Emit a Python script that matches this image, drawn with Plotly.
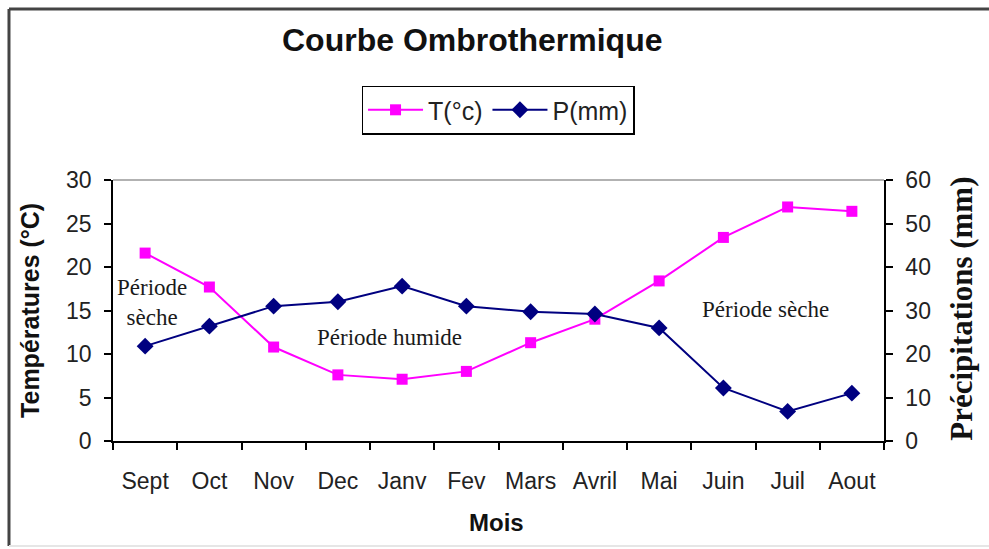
import plotly.graph_objects as go

mois = ["Sept", "Oct", "Nov", "Dec", "Janv", "Fev", "Mars", "Avril", "Mai", "Juin", "Juil", "Aout"]
temperature = [21.6, 17.7, 10.8, 7.6, 7.1, 8.0, 11.3, 14.0, 18.4, 23.4, 26.9, 26.4]
precipitation = [21.8, 26.4, 31.0, 32.0, 35.6, 31.0, 29.7, 29.2, 26.0, 12.2, 6.8, 11.0]

SANS = "Liberation Sans, Arial, sans-serif"
SERIF = "Liberation Serif, Times New Roman, serif"

fig = go.Figure()
fig.add_trace(go.Scatter(
    x=mois, y=temperature, name="T(°c)", mode="lines+markers",
    line=dict(color="#FF00FF", width=2),
    marker=dict(symbol="square", size=11, color="#FF00FF"),
    yaxis="y"))
fig.add_trace(go.Scatter(
    x=mois, y=precipitation, name="P(mm)", mode="lines+markers",
    line=dict(color="#000080", width=2),
    marker=dict(symbol="diamond", size=13, color="#000080"),
    yaxis="y2"))

tickfont = dict(family=SANS, size=23, color="#222")


def ann(text, x, y, font, angle=0):
    return dict(text=text, xref="paper", yref="paper", x=x, y=y, xanchor="center",
                yanchor="middle", showarrow=False, textangle=angle, font=font)


fig.update_layout(
    width=989, height=549,
    margin=dict(l=113, r=105, t=180, b=108, autoexpand=False),
    paper_bgcolor="white", plot_bgcolor="white",
    showlegend=True,
    legend=dict(orientation="h", x=0.4994, xanchor="center", y=1.268, yanchor="middle",
                bordercolor="black", borderwidth=1.5, bgcolor="white",
                font=dict(family=SANS, size=25, color="#222"),
                itemwidth=55, tracegroupgap=0),
    xaxis=dict(type="category", range=[-0.5, len(mois) - 0.5], showline=True,
               linecolor="black", linewidth=1.5,
               ticks="outside", ticklen=7, tickcolor="black", tickwidth=1.5,
               tickson="boundaries", showgrid=False, zeroline=False,
               tickfont=tickfont, ticklabelstandoff=19),
    yaxis=dict(range=[0, 30], dtick=5, showline=True, linecolor="black", linewidth=1.5,
               ticks="outside", ticklen=7, tickcolor="black", tickwidth=1.5,
               showgrid=False, zeroline=False, tickfont=tickfont, ticklabelstandoff=8),
    yaxis2=dict(range=[0, 60], dtick=10, overlaying="y", side="right", showline=True,
                linecolor="black", linewidth=1.5, ticks="outside", ticklen=7,
                tickcolor="black", tickwidth=1.5, showgrid=False, zeroline=False,
                tickfont=tickfont, ticklabelstandoff=8),
    shapes=[
        dict(type="line", xref="paper", yref="paper", x0=0, x1=1, y0=1, y1=1,
             line=dict(color="#999", width=1.5)),
        dict(type="line", xref="paper", yref="paper", x0=-0.1349, x1=1.16, y0=1.655, y1=1.655,
             line=dict(color="#444", width=3)),
        dict(type="line", xref="paper", yref="paper", x0=-0.1349, x1=-0.1349, y0=-0.402, y1=1.655,
             line=dict(color="#444", width=3)),
        dict(type="line", xref="paper", yref="paper", x0=-0.1349, x1=1.16, y0=-0.402, y1=-0.402,
             line=dict(color="#e6e6e6", width=2)),
    ],
    annotations=[
        ann("<b>Courbe Ombrothermique</b>", 0.4656, 1.536, dict(family=SANS, size=32, color="#111")),
        ann("<b>Mois</b>", 0.498, -0.314, dict(family=SANS, size=24, color="#111")),
        ann("<b>Températures (°C)</b>", -0.1077, 0.502, dict(family=SANS, size=25, color="#111"), -90),
        ann("<b>Précipitations (mm)</b>", 1.101, 0.506, dict(family=SERIF, size=31, color="#111"), -90),
        ann("Période<br>sèche", 0.0506, 0.529, dict(family=SERIF, size=23, color="#1a1a1a")),
        ann("Période humide", 0.358, 0.398, dict(family=SERIF, size=23, color="#1a1a1a")),
        ann("Période sèche", 0.846, 0.502, dict(family=SERIF, size=23, color="#1a1a1a")),
    ],
)

fig.write_html("out.html", config={"displayModeBar": False},
               post_script="document.body.style.margin='0';document.body.style.overflow='hidden';")
